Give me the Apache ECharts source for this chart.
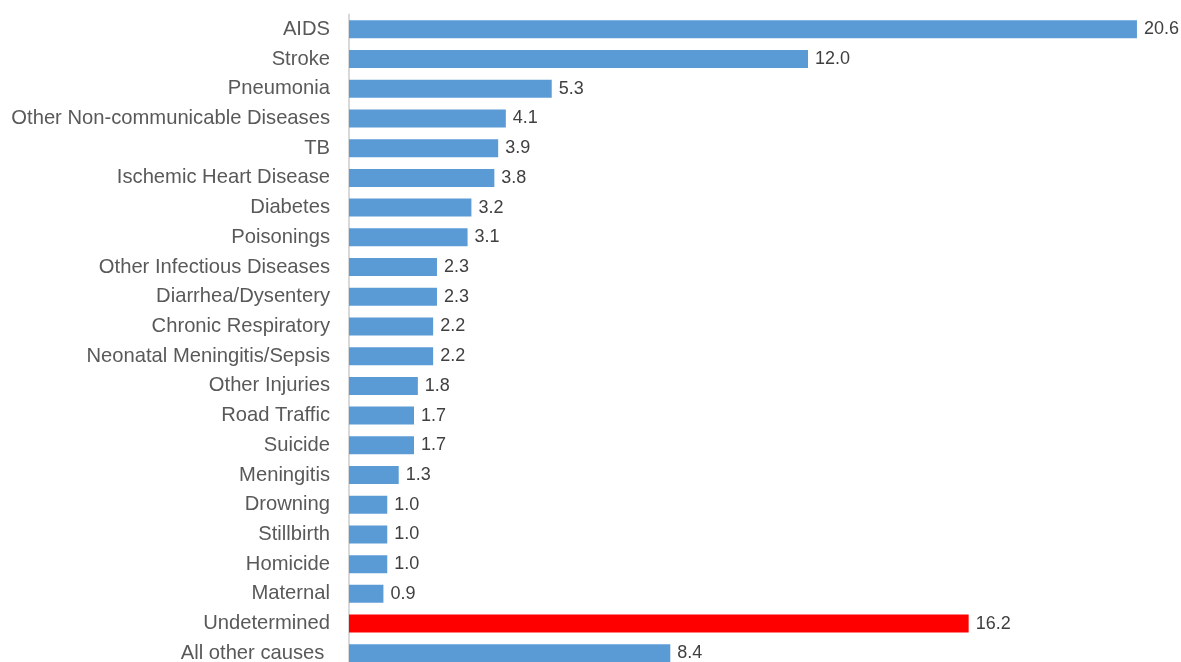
<!DOCTYPE html>
<html>
<head>
<meta charset="utf-8">
<script src="https://cdn.jsdelivr.net/npm/echarts@6/dist/echarts.min.js"></script>
<style>
  html, body { margin: 0; padding: 0; background: #ffffff; }
  #chart { width: 1181px; height: 662px; }
</style>
</head>
<body>
<div id="chart"></div>
<script>
// Causes of death, listed top to bottom
const categories = [
  'AIDS', 'Stroke', 'Pneumonia', 'Other Non-communicable Diseases', 'TB',
  'Ischemic Heart Disease', 'Diabetes', 'Poisonings', 'Other Infectious Diseases',
  'Diarrhea/Dysentery', 'Chronic Respiratory', 'Neonatal Meningitis/Sepsis',
  'Other Injuries', 'Road Traffic', 'Suicide', 'Meningitis', 'Drowning',
  'Stillbirth', 'Homicide', 'Maternal', 'Undetermined', 'All other causes '
];
// Share of deaths (%)
const values = [
  20.6, 12.0, 5.3, 4.1, 3.9, 3.8, 3.2, 3.1, 2.3, 2.3, 2.2, 2.2,
  1.8, 1.7, 1.7, 1.3, 1.0, 1.0, 1.0, 0.9, 16.2, 8.4
];
const highlighted = ['Undetermined'];

const BLUE = '#5B9BD5';
const RED = '#FF0000';

const chart = echarts.init(document.getElementById('chart'), null, { renderer: 'canvas' });

const data = categories.map((c, i) => ({
  value: values[i],
  itemStyle: { color: highlighted.includes(c) ? RED : BLUE }
}));

const xMax = 21;
const pxPerUnit = 38.25;

chart.setOption({
  animation: false,
  backgroundColor: '#ffffff',
  grid: {
    left: 349,
    top: 14.5,
    width: xMax * pxPerUnit,
    height: 22 * 29.71,
    containLabel: false,
    outerBoundsMode: 'none'
  },
  xAxis: {
    type: 'value',
    min: 0,
    max: xMax,
    show: false
  },
  yAxis: {
    type: 'category',
    data: categories,
    inverse: true,
    axisLine: { show: true, lineStyle: { color: '#D9D9D9', width: 2 } },
    axisTick: { show: false },
    axisLabel: {
      color: '#595959',
      fontFamily: 'Liberation Sans, Arial, sans-serif',
      fontSize: 20.2,
      margin: 19
    }
  },
  series: [{
    type: 'bar',
    data: data,
    barWidth: 18,
    label: {
      show: true,
      position: 'right',
      distance: 7,
      color: '#404040',
      fontFamily: 'Liberation Sans, Arial, sans-serif',
      fontSize: 18,
      formatter: p => p.value.toFixed(1)
    }
  }]
});
</script>
</body>
</html>
